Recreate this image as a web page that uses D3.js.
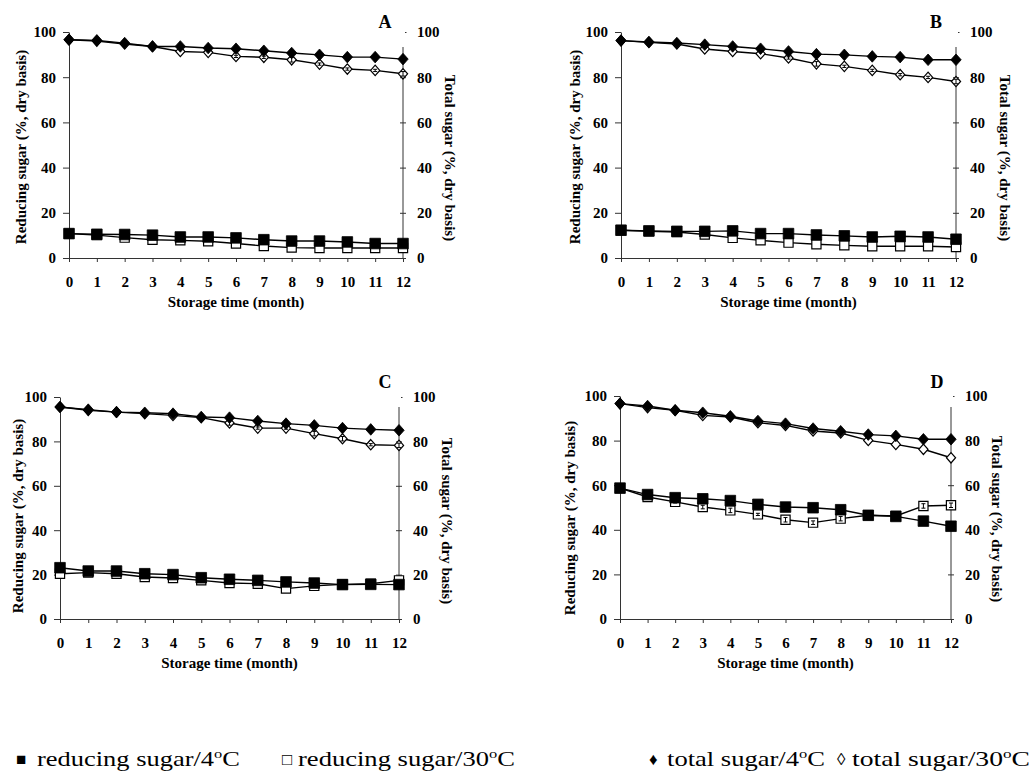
<!DOCTYPE html>
<html>
<head>
<meta charset="utf-8">
<script src="https://cdn.jsdelivr.net/npm/d3@7"></script>
<style>
    body { margin: 0; background: #fff; }
    svg { display: block; }
    text { font-family: "Liberation Serif", "Times New Roman", serif; fill: #000; }
</style>
</head>
<body>
<svg id="chart" width="1036" height="775"></svg>
<script>
// categories and ticks
const months = [0, 1, 2, 3, 4, 5, 6, 7, 8, 9, 10, 11, 12];
const yTicks = [0, 20, 40, 60, 80, 100];
const panelLetters = ["A", "B", "C", "D"];
const xTitle = "Storage time (month)";
const leftTitle = "Reducing sugar (%, dry basis)";
const rightTitle = "Total sugar (%, dry basis)";

// panel A
const redSugar4A  = [10.8, 10.5, 10.4, 10.1, 9.3, 9.3, 8.9, 8.1, 7.5, 7.5, 7.1, 6.4, 6.4];
const redSugar30A = [10.8, 10.1, 9.0, 8.1, 7.8, 7.4, 6.4, 5.3, 4.6, 4.4, 4.4, 4.4, 4.4];
const totSugar4A  = [96.6, 96.3, 95.1, 93.6, 93.6, 92.9, 92.6, 91.7, 90.7, 89.9, 88.9, 88.9, 88.0];
const totSugar30A = [96.6, 96.0, 94.7, 93.6, 91.4, 91.0, 89.2, 88.8, 87.7, 85.8, 83.6, 83.0, 81.5];
const errTot30A   = [0, 0, 0, 0, 0, 0, 0.5, 0.5, 1, 0.5, 0.5, 0.5, 1];

// panel B
const redSugar4B  = [12.3, 12.0, 11.8, 11.8, 12.0, 10.8, 10.8, 10.2, 9.8, 9.3, 9.6, 9.3, 8.3];
const redSugar30B = [12.3, 11.8, 11.5, 10.4, 8.9, 7.8, 6.8, 6.1, 5.6, 5.2, 5.2, 5.2, 4.9];
const totSugar4B  = [96.2, 95.6, 95.1, 94.4, 93.6, 92.6, 91.4, 90.2, 89.9, 89.2, 88.9, 87.7, 87.7];
const totSugar30B = [96.2, 95.4, 94.7, 92.5, 91.4, 90.4, 88.5, 85.9, 84.8, 83.0, 81.1, 79.9, 78.1];
const errTot30B   = [0, 0, 0, 0, 0, 0, 0.5, 1, 0.5, 0.5, 0.5, 0.5, 1];

// panel C
const redSugar4C  = [23.1, 21.6, 21.6, 20.4, 20.0, 18.6, 17.9, 17.4, 16.7, 16.2, 15.5, 15.6, 15.5];
const redSugar30C = [20.4, 20.9, 20.4, 18.9, 18.5, 17.4, 16.2, 15.9, 13.7, 14.9, 15.6, 15.9, 17.4];
const totSugar4C  = [95.5, 94.3, 93.2, 92.9, 92.5, 91.0, 90.7, 89.2, 88.0, 87.2, 86.0, 85.4, 85.0];
const totSugar30C = [95.5, 94.0, 93.2, 92.5, 91.7, 90.7, 88.3, 86.0, 86.0, 83.5, 81.2, 78.5, 78.2];
const errTot30C   = [0, 0, 0, 0, 0, 0, 1, 0.5, 0.5, 1, 1, 0.5, 1];

// panel D
const redSugar4D  = [58.7, 55.8, 54.4, 53.9, 53.1, 51.4, 50.2, 49.9, 49.0, 46.5, 46.0, 43.9, 41.6];
const redSugar30D = [58.7, 54.7, 52.5, 50.2, 48.7, 46.9, 44.5, 43.2, 45.0, 46.5, 46.2, 50.7, 51.0];
const totSugar4D  = [96.6, 95.5, 93.6, 92.5, 90.9, 88.8, 87.6, 85.4, 84.2, 82.7, 82.1, 80.6, 80.6];
const totSugar30D = [96.6, 94.8, 93.6, 91.3, 90.6, 88.0, 86.8, 84.3, 83.4, 80.1, 78.3, 76.1, 72.3];
const errRed30D   = [0, 0.5, 0.5, 0.8, 1, 0.5, 1, 0.8, 1, 0.5, 0.5, 1, 1];

// legend
const legendSymbols = ["\u25A0", "\u25A1", "\u2666", "\u25CA"];
const legendLabels = [
    ["reducing sugar/4", "C"],
    ["reducing sugar/30", "C"],
    ["total sugar/4", "C"],
    ["total sugar/30", "C"]
];

const svg = d3.select("#chart");

// layout of the four panels (pixels)
const panels = [
    { left: 69, right: 403, top: 32, bottom: 258, rTop: 47,
      lTitle: [21, 147], rTitle: [450, 158], letter: [385, 28],
      series: [
          { values: redSugar30A, shape: "square", filled: false },
          { values: totSugar30A, err: errTot30A, shape: "diamond", filled: false },
          { values: redSugar4A, shape: "square", filled: true },
          { values: totSugar4A, shape: "diamond", filled: true }
      ] },
    { left: 621, right: 956, top: 32, bottom: 258, rTop: 47,
      lTitle: [575, 147], rTitle: [1005, 158], letter: [936, 28],
      series: [
          { values: redSugar30B, shape: "square", filled: false },
          { values: totSugar30B, err: errTot30B, shape: "diamond", filled: false },
          { values: redSugar4B, shape: "square", filled: true },
          { values: totSugar4B, shape: "diamond", filled: true }
      ] },
    { left: 60, right: 399, top: 397, bottom: 619, rTop: 407,
      lTitle: [18, 516], rTitle: [447, 521], letter: [385, 388],
      series: [
          { values: redSugar30C, shape: "square", filled: false },
          { values: totSugar30C, err: errTot30C, shape: "diamond", filled: false },
          { values: redSugar4C, shape: "square", filled: true },
          { values: totSugar4C, shape: "diamond", filled: true }
      ] },
    { left: 620, right: 951, top: 396, bottom: 619, rTop: 407,
      lTitle: [570, 518], rTitle: [997, 519], letter: [937, 388],
      series: [
          { values: redSugar30D, err: errRed30D, shape: "square", filled: false },
          { values: totSugar30D, shape: "diamond", filled: false },
          { values: redSugar4D, shape: "square", filled: true },
          { values: totSugar4D, shape: "diamond", filled: true }
      ] }
];

const axisColor = "#333";

function markerPath(shape, filled) {
    const p = d3.path();
    if (shape === "square") {
        const h = filled ? 5.3 : 4.6;
        p.rect(-h, -h, 2 * h, 2 * h);
    } else {
        const w = filled ? 5.2 : 4.6;
        const h = filled ? 5.8 : 5.2;
        p.moveTo(0, -h);
        p.lineTo(w, 0);
        p.lineTo(0, h);
        p.lineTo(-w, 0);
        p.closePath();
    }
    return p.toString();
}

function styleAxis(g) {
    g.selectAll("path, line").attr("stroke", axisColor).attr("stroke-width", 1);
    g.selectAll("text")
        .style("font-family", '"Liberation Serif", "Times New Roman", serif')
        .style("font-size", "15px")
        .style("font-weight", 700)
        .attr("fill", "#000");
}

function drawPanel(p, idx) {
    const x = d3.scaleLinear().domain([0, 12]).range([p.left, p.right]);
    const y = d3.scaleLinear().domain([0, 100]).range([p.bottom, p.top]);
    const g = svg.append("g");

    // x axis
    g.append("g")
        .attr("transform", `translate(0,${p.bottom})`)
        .call(d3.axisBottom(x).tickValues(months).tickSize(4).tickSizeOuter(0).tickPadding(14))
        .call(styleAxis);

    // left axis
    g.append("g")
        .attr("transform", `translate(${p.left},0)`)
        .call(d3.axisLeft(y).tickValues(yTicks).tickSize(6).tickSizeOuter(0).tickPadding(7))
        .call(styleAxis);

    // right axis, crossing ticks, line stops short of the top
    const right = g.append("g")
        .attr("transform", `translate(${p.right},0)`)
        .call(d3.axisRight(y).tickValues(yTicks).tickSize(3).tickSizeOuter(0).tickPadding(11))
        .call(styleAxis);
    right.select(".domain").remove();
    right.selectAll(".tick line")
        .attr("x1", d => d === 100 ? 2 : -3)
        .attr("x2", d => d === 100 ? 3.5 : 3);
    right.append("line")
        .attr("x1", 0).attr("x2", 0)
        .attr("y1", p.rTop).attr("y2", p.bottom)
        .attr("stroke", axisColor);

    // titles
    g.append("text")
        .attr("x", (p.left + p.right) / 2)
        .attr("y", p.bottom + 49)
        .attr("text-anchor", "middle")
        .style("font-size", "15px")
        .style("font-weight", 700)
        .text(xTitle);

    g.append("text")
        .attr("transform", `translate(${p.lTitle[0]},${p.lTitle[1]}) rotate(-90)`)
        .attr("text-anchor", "middle")
        .attr("dy", "0.35em")
        .style("font-size", "15px")
        .style("font-weight", 700)
        .text(leftTitle);

    g.append("text")
        .attr("transform", `translate(${p.rTitle[0]},${p.rTitle[1]}) rotate(90)`)
        .attr("text-anchor", "middle")
        .attr("dy", "0.35em")
        .style("font-size", "15px")
        .style("font-weight", 700)
        .text(rightTitle);

    g.append("text")
        .attr("x", p.letter[0])
        .attr("y", p.letter[1])
        .attr("text-anchor", "middle")
        .style("font-size", "18px")
        .style("font-weight", 700)
        .text(panelLetters[idx]);

    // series
    const line = d3.line()
        .x((d, i) => x(months[i]))
        .y(d => y(d));

    p.series.forEach(s => {
        g.append("path")
            .datum(s.values)
            .attr("d", line)
            .attr("fill", "none")
            .attr("stroke", "#000")
            .attr("stroke-width", 1.4);

        g.selectAll(null)
            .data(s.values)
            .enter()
            .append("path")
            .attr("transform", (d, i) => `translate(${x(months[i])},${y(d)})`)
            .attr("d", markerPath(s.shape, s.filled))
            .attr("fill", s.filled ? "#000" : "#fff")
            .attr("stroke", "#000")
            .attr("stroke-width", s.filled ? 0.8 : 1.2);

        if (s.err) {
            const eb = g.selectAll(null)
                .data(s.values.map((v, i) => ({ v, e: s.err[i], m: months[i] })).filter(d => d.e > 0))
                .enter()
                .append("g")
                .attr("stroke", "#000")
                .attr("stroke-width", 1);
            eb.append("line")
                .attr("x1", d => x(d.m)).attr("x2", d => x(d.m))
                .attr("y1", d => y(d.v + d.e)).attr("y2", d => y(d.v - d.e));
            eb.append("line")
                .attr("x1", d => x(d.m) - 2).attr("x2", d => x(d.m) + 2)
                .attr("y1", d => y(d.v + d.e)).attr("y2", d => y(d.v + d.e));
            eb.append("line")
                .attr("x1", d => x(d.m) - 2).attr("x2", d => x(d.m) + 2)
                .attr("y1", d => y(d.v - d.e)).attr("y2", d => y(d.v - d.e));
        }
    });
}

panels.forEach(drawPanel);

// legend row: symbols and labels stretched to the widths in the picture
const legendLayout = [
    { symX: 16, x: 37, w: 203 },
    { symX: 282, x: 298, w: 217 },
    { symX: 649, x: 667, w: 158 },
    { symX: 837, x: 852, w: 178 }
];
const legendY = 766;

legendLabels.forEach((parts, i) => {
    const L = legendLayout[i];
    svg.append("text")
        .attr("x", L.symX)
        .attr("y", legendY - 1)
        .style("font-size", "17px")
        .text(legendSymbols[i]);

    const t = svg.append("text")
        .attr("transform", `translate(${L.x},${legendY})`)
        .style("font-size", "21px");
    t.append("tspan").text(parts[0]);
    t.append("tspan").attr("dy", -8).style("font-size", "13px").text("o");
    t.append("tspan").attr("dy", 8).text(parts[1]);

    const len = t.node().getComputedTextLength();
    if (len > 0) {
        t.attr("transform", `translate(${L.x},${legendY}) scale(${L.w / len},1)`);
    }
});
</script>
</body>
</html>
